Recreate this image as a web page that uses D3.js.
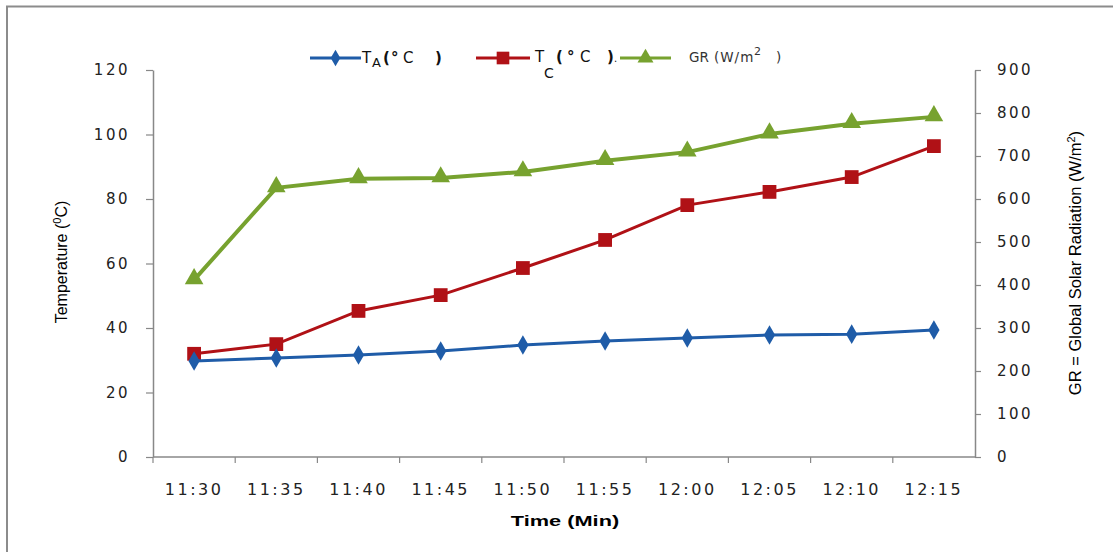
<!DOCTYPE html>
<html>
<head>
<meta charset="utf-8">
<script src="https://cdn.jsdelivr.net/npm/d3@7"></script>
<style>
  body { margin: 0; background: #fff; }
</style>
</head>
<body>
<div id="chart"></div>
<script>
// data
var times = ["11:30", "11:35", "11:40", "11:45", "11:50", "11:55", "12:00", "12:05", "12:10", "12:15"];
var ta = [29.8, 30.7, 31.6, 32.9, 34.7, 36.0, 36.9, 37.8, 38.1, 39.4];
var tc = [32.0, 35.0, 45.3, 50.2, 58.6, 67.3, 78.1, 82.2, 86.8, 96.4];
var gr = [412, 626, 647, 649, 663, 689, 709, 751, 775, 791];
var leftTicks = [0, 20, 40, 60, 80, 100, 120];
var rightTicks = [0, 100, 200, 300, 400, 500, 600, 700, 800, 900];

var W = 1113, H = 552;
var plotL = 153, plotR = 975, plotT = 70, plotB = 457;

var svg = d3.select("#chart").append("svg")
    .attr("width", W)
    .attr("height", H);

// outer frame (only top and left visible)
svg.append("path")
    .attr("d", "M7,552 L7,6.5 L1113,6.5")
    .attr("fill", "none")
    .attr("stroke", "#8c8c8c")
    .attr("stroke-width", 2);

var x = d3.scaleBand().domain(times).range([plotL, plotR]);
var yL = d3.scaleLinear().domain([0, 120]).range([plotB, plotT]);
var yR = d3.scaleLinear().domain([0, 900]).range([plotB, plotT]);

var tickFont = "DejaVu Sans, Verdana, sans-serif";

// left axis
var gL = svg.append("g")
    .attr("transform", "translate(" + plotL + ",0)")
    .call(d3.axisLeft(yL).tickValues(leftTicks).tickSize(7).tickSizeOuter(0).tickPadding(16));
// right axis
var gR = svg.append("g")
    .attr("transform", "translate(" + plotR + ",0)")
    .call(d3.axisRight(yR).tickValues(rightTicks).tickSize(6).tickSizeOuter(0).tickPadding(16));
// x axis, ticks at band edges
var gX = svg.append("g")
    .attr("transform", "translate(0," + plotB + ")")
    .call(d3.axisBottom(x).tickSize(0).tickPadding(27));

gX.selectAll(".tick").each(function(d) {
    d3.select(this).append("line")
        .attr("x1", -x.bandwidth() / 2).attr("x2", -x.bandwidth() / 2)
        .attr("y1", 0).attr("y2", 6);
});

[gL, gR, gX].forEach(function(g) {
    g.selectAll("path.domain").attr("stroke", "#888").attr("stroke-width", 1.5);
    g.selectAll(".tick line").attr("stroke", "#888").attr("stroke-width", 1.2);
    g.selectAll(".tick text")
        .attr("font-family", tickFont)
        .attr("font-size", "15px")
        .attr("letter-spacing", "2.5px")
        .attr("fill", "#222");
});
gX.selectAll(".tick text").attr("font-size", "16px").attr("letter-spacing", "2.5px");
gX.select("path.domain").attr("d", "M" + plotL + ",0H" + plotR);

// axis titles
var titleFont = "Liberation Sans Narrow, Arial Narrow, Liberation Sans, sans-serif";
var lt = svg.append("text")
    .attr("transform", "translate(67,262) rotate(-90)")
    .attr("text-anchor", "middle")
    .attr("font-family", titleFont)
    .attr("font-size", "16px");
lt.append("tspan").text("Temperature (");
lt.append("tspan").attr("font-size", "11px").attr("dy", -6).text("0");
lt.append("tspan").attr("dy", 6).text("C)");

var rt = svg.append("text")
    .attr("transform", "translate(1081,263) rotate(-90)")
    .attr("text-anchor", "middle")
    .attr("font-family", titleFont)
    .attr("font-size", "16.5px");
rt.append("tspan").text("GR = Global Solar Radiation  (W/m");
rt.append("tspan").attr("font-size", "11px").attr("dy", -6).text("2");
rt.append("tspan").attr("dy", 6).text(")");

svg.append("text")
    .attr("transform", "translate(565,526) scale(1.45,1)")
    .attr("text-anchor", "middle")
    .attr("font-family", "Liberation Sans, Arial, sans-serif")
    .attr("font-weight", "bold")
    .attr("font-size", "15px")
    .text("Time (Min)");

// series
var series = [
    { name: "GR", values: gr, scale: yR, color: "#77a22f", width: 4, symbol: d3.symbolTriangle, size: 150 },
    { name: "TC", values: tc, scale: yL, color: "#b01116", width: 3, symbol: d3.symbolSquare, size: 190 },
    { name: "TA", values: ta, scale: yL, color: "#1f5ca8", width: 3, symbol: d3.symbolDiamond, size: 110 }
];

var cx = function(i) { return x(times[i]) + x.bandwidth() / 2; };

series.forEach(function(s) {
    var line = d3.line()
        .x(function(d, i) { return cx(i); })
        .y(function(d) { return s.scale(d); });
    svg.append("path")
        .datum(s.values)
        .attr("d", line)
        .attr("fill", "none")
        .attr("stroke", s.color)
        .attr("stroke-width", s.width);
    svg.selectAll("path.m-" + s.name)
        .data(s.values)
        .enter()
        .append("path")
        .attr("class", "m-" + s.name)
        .attr("d", d3.symbol().type(s.symbol).size(s.size))
        .attr("transform", function(d, i) {
            var dy = s.name === "GR" ? -1 : 0;
            return "translate(" + cx(i) + "," + (s.scale(d) + dy) + ")";
        })
        .attr("fill", s.color);
});

// legend
var lg = svg.append("g").attr("font-family", tickFont).attr("font-size", "15px").attr("fill", "#111");
var legendItems = [
    { x1: 310, x2: 361, color: "#1f5ca8", symbol: d3.symbolDiamond, size: 80, w: 3 },
    { x1: 476, x2: 530, color: "#b01116", symbol: d3.symbolSquare, size: 160, w: 3 },
    { x1: 620, x2: 671, color: "#77a22f", symbol: d3.symbolTriangle, size: 110, w: 3 }
];
legendItems.forEach(function(it) {
    lg.append("line")
        .attr("x1", it.x1).attr("x2", it.x2)
        .attr("y1", 58).attr("y2", 58)
        .attr("stroke", it.color).attr("stroke-width", it.w);
    lg.append("path")
        .attr("d", d3.symbol().type(it.symbol).size(it.size))
        .attr("transform", "translate(" + ((it.x1 + it.x2) / 2) + ",58)")
        .attr("fill", it.color);
});
// pieces of legend text placed one by one (stretched look of the original)
var t1 = lg.append("text").attr("y", 63);
t1.append("tspan").attr("x", 362).text("T");
t1.append("tspan").attr("x", 372).attr("dy", 4).attr("font-size", "13px").text("A");
t1.append("tspan").attr("x", 383).attr("dy", -4).attr("font-weight", "bold").text("(");
t1.append("tspan").attr("x", 391).attr("font-weight", "bold").text("°");
t1.append("tspan").attr("x", 403).text("C");
t1.append("tspan").attr("x", 435).attr("font-weight", "bold").text(")");

var t2 = lg.append("text").attr("y", 62);
t2.append("tspan").attr("x", 535).text("T");
var t2sub = lg.append("text").attr("x", 544).attr("y", 78).attr("font-size", "14px").text("C");
t2.append("tspan").attr("x", 556).attr("font-weight", "bold").text("(");
t2.append("tspan").attr("x", 567).attr("font-weight", "bold").text("°");
t2.append("tspan").attr("x", 580).text("C");
t2.append("tspan").attr("x", 607).attr("font-weight", "bold").text(")");
t2.append("tspan").attr("x", 614).attr("font-size", "10px").text(".");

var t3 = lg.append("text").attr("y", 62).attr("font-size", "13.5px").attr("fill", "#333");
t3.append("tspan").attr("x", 689).text("GR");
t3.append("tspan").attr("x", 714).attr("letter-spacing", "1px").text("(W/m");
t3.append("tspan").attr("x", 754).attr("dy", -7).attr("font-size", "11px").text("2");
t3.append("tspan").attr("x", 776).attr("dy", 7).text(")");
</script>
</body>
</html>
